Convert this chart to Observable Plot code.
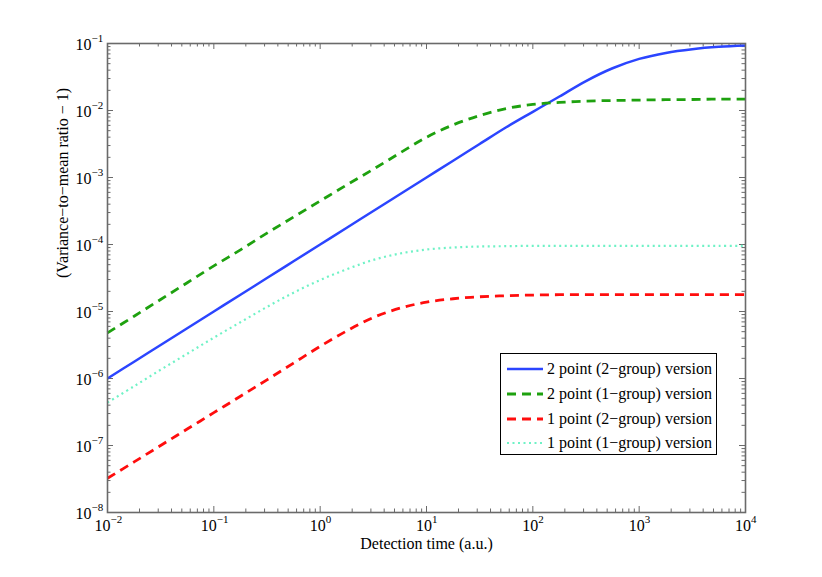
<!DOCTYPE html>
<html><head><meta charset="utf-8">
<script src="https://cdn.jsdelivr.net/npm/d3@7"></script>
<script src="https://cdn.jsdelivr.net/npm/@observablehq/plot@0.6"></script>
<style>
body{margin:0;background:#fff;}
#wrap{position:relative;width:822px;height:577px;overflow:hidden;}
#legend{position:absolute;left:500px;top:353px;width:217px;height:102px;border:1px solid #000;background:#fff;font-family:"Liberation Serif","Times New Roman",serif;font-size:16px;color:#000;box-sizing:border-box;}
.row{position:absolute;left:0;height:24px;display:flex;align-items:center;white-space:nowrap;}
.row svg{margin-left:6px;margin-right:4px;}
</style></head>
<body><div id="wrap"><div id="chart"></div><div id="legend"></div></div>
<script>
// ---- data ----
const xs = [0.01, 0.0178, 0.0316, 0.0562, 0.1, 0.178, 0.316, 0.562, 1, 1.78, 3.16, 5.62, 10, 17.8, 31.6, 56.2, 100, 178, 316, 562, 1000, 1780, 3160, 5620, 10000];
const blue2pt2grp = [1.0e-6, 1.78e-6, 3.16e-6, 5.62e-6, 1.0e-5, 1.78e-5, 3.16e-5, 5.62e-5, 1.0e-4, 1.78e-4, 3.16e-4, 5.62e-4, 1.0e-3, 1.78e-3, 3.16e-3, 5.62e-3, 9.55e-3, 1.62e-2, 2.75e-2, 4.27e-2, 5.89e-2, 7.24e-2, 8.22e-2, 8.91e-2, 9.33e-2];
const green2pt1grp = [4.79e-6, 8.51e-6, 1.51e-5, 2.69e-5, 4.79e-5, 8.32e-5, 1.48e-4, 2.57e-4, 4.47e-4, 7.76e-4, 1.33e-3, 2.32e-3, 3.98e-3, 6.10e-3, 8.41e-3, 1.07e-2, 1.23e-2, 1.32e-2, 1.38e-2, 1.41e-2, 1.43e-2, 1.45e-2, 1.46e-2, 1.48e-2, 1.48e-2];
const red1pt2grp = [3.24e-8, 5.69e-8, 1.0e-7, 1.76e-7, 3.09e-7, 5.43e-7, 9.55e-7, 1.70e-6, 3.02e-6, 5.13e-6, 8.13e-6, 1.12e-5, 1.38e-5, 1.55e-5, 1.66e-5, 1.72e-5, 1.76e-5, 1.78e-5, 1.78e-5, 1.78e-5, 1.78e-5, 1.78e-5, 1.78e-5, 1.78e-5, 1.78e-5];
const cyan1pt1grp = [4.37e-7, 7.67e-7, 1.35e-6, 2.34e-6, 4.07e-6, 6.92e-6, 1.17e-5, 1.91e-5, 2.95e-5, 4.27e-5, 5.89e-5, 7.33e-5, 8.41e-5, 9.02e-5, 9.33e-5, 9.44e-5, 9.55e-5, 9.55e-5, 9.55e-5, 9.55e-5, 9.55e-5, 9.55e-5, 9.55e-5, 9.55e-5, 9.55e-5];
const seriesNames = ["2 point (2\u2212group) version", "2 point (1\u2212group) version", "1 point (2\u2212group) version", "1 point (1\u2212group) version"];
const xTickExp = [-2, -1, 0, 1, 2, 3, 4];
const yTickExp = [-8, -7, -6, -5, -4, -3, -2, -1];
const xLabel = "Detection time (a.u.)";
const yLabel = "(Variance\u2212to\u2212mean ratio \u2212 1)";

// ---- styles ----
const styles = [
  {color: "#2b45ff", width: 2.5, dash: null},
  {color: "#1ea10f", width: 2.8, dash: "9,6"},
  {color: "#ff0d0d", width: 2.8, dash: "9,6"},
  {color: "#6ff2c6", width: 2.2, dash: "2,3.5"}
];
const allSeries = [blue2pt2grp, green2pt1grp, red1pt2grp, cyan1pt1grp];
const rows = [];
allSeries.forEach((vals, s) => vals.forEach((v, i) => rows.push({x: xs[i], y: v, s})));

const W = 822, H = 577, mL = 107, mR = 77, mT = 43, mB = 65;
const iW = W - mL - mR, iH = H - mT - mB;
const axisColor = "#6a6a6a";
const font = "Liberation Serif";

const xMajor = xTickExp.map(e => Math.pow(10, e));
const yMajor = yTickExp.map(e => Math.pow(10, e));
const xMinor = [], yMinor = [];
for (let e = -2; e < 4; e++) for (let k = 2; k <= 9; k++) xMinor.push(k * Math.pow(10, e));
for (let e = -8; e < -1; e++) for (let k = 2; k <= 9; k++) yMinor.push(k * Math.pow(10, e));
const sup = e => (e < 0 ? "\u2212" : "") + Math.abs(e);
const xNeg = xTickExp.filter(e => e < 0), xPos = xTickExp.filter(e => e >= 0);

const majLen = 6, minLen = 3.5;
const txt = {fontFamily: font, fill: "#000"};
const marks = [
  // ticks (inward, all four sides)
  Plot.ruleX(xMajor, {x: d => d, insetTop: iH - majLen, stroke: axisColor, strokeWidth: 1}),
  Plot.ruleX(xMajor, {x: d => d, insetBottom: iH - majLen, stroke: axisColor, strokeWidth: 1}),
  Plot.ruleX(xMinor, {x: d => d, insetTop: iH - minLen, stroke: axisColor, strokeWidth: 1}),
  Plot.ruleX(xMinor, {x: d => d, insetBottom: iH - minLen, stroke: axisColor, strokeWidth: 1}),
  Plot.ruleY(yMajor, {y: d => d, insetRight: iW - majLen, stroke: axisColor, strokeWidth: 1}),
  Plot.ruleY(yMajor, {y: d => d, insetLeft: iW - majLen, stroke: axisColor, strokeWidth: 1}),
  Plot.ruleY(yMinor, {y: d => d, insetRight: iW - minLen, stroke: axisColor, strokeWidth: 1}),
  Plot.ruleY(yMinor, {y: d => d, insetLeft: iW - minLen, stroke: axisColor, strokeWidth: 1}),
  // curves
  ...styles.map((st, s) => Plot.line(rows.filter(r => r.s === s), {
    x: "x", y: "y", stroke: st.color, strokeWidth: st.width,
    strokeDasharray: st.dash, curve: "catmull-rom", strokeLinecap: "butt"
  })),
  Plot.frame({stroke: axisColor, strokeWidth: 1.6}),
  // x tick labels: "10" + raised exponent, roughly centred on the tick
  Plot.text(xNeg, {x: e => Math.pow(10, e), frameAnchor: "bottom", text: () => "10", textAnchor: "end", dx: 3, dy: 18, fontSize: 16, ...txt}),
  Plot.text(xPos, {x: e => Math.pow(10, e), frameAnchor: "bottom", text: () => "10", textAnchor: "end", dx: 5.5, dy: 18, fontSize: 16, ...txt}),
  Plot.text(xNeg, {x: e => Math.pow(10, e), frameAnchor: "bottom", text: e => sup(e), textAnchor: "start", dx: 3, dy: 10, fontSize: 11, ...txt}),
  Plot.text(xPos, {x: e => Math.pow(10, e), frameAnchor: "bottom", text: e => sup(e), textAnchor: "start", dx: 5.5, dy: 10, fontSize: 11, ...txt}),
  // y tick labels
  Plot.text(yTickExp, {y: e => Math.pow(10, e), frameAnchor: "left", text: () => "10", textAnchor: "end", dx: -16, dy: 1, fontSize: 16, ...txt}),
  Plot.text(yTickExp, {y: e => Math.pow(10, e), frameAnchor: "left", text: e => sup(e), textAnchor: "start", dx: -16, dy: -5.5, fontSize: 11, ...txt}),
  // axis titles
  Plot.text([xLabel], {frameAnchor: "bottom", text: d => d, dy: 36, fontSize: 16, ...txt}),
  Plot.text([yLabel], {frameAnchor: "left", text: d => d, dx: -45, rotate: -90, fontSize: 16, ...txt})
];

const chart = Plot.plot({
  width: W, height: H, marginLeft: mL, marginRight: mR, marginTop: mT, marginBottom: mB,
  x: {type: "log", domain: [1e-2, 1e4], axis: null},
  y: {type: "log", domain: [1e-8, 1e-1], axis: null},
  style: {background: "#fff", fontFamily: font},
  marks
});
document.getElementById("chart").appendChild(chart);

// legend
const leg = document.getElementById("legend");
seriesNames.forEach((name, i) => {
  const st = styles[i];
  const row = document.createElement("div");
  row.className = "row";
  row.style.top = (3 + i * 24.8) + "px";
  row.innerHTML = `<svg width="36" height="10"><line x1="0" x2="36" y1="5" y2="5" stroke="${st.color}" stroke-width="${st.width}" ${st.dash ? `stroke-dasharray="${st.dash}"` : ""}/></svg><span>${name}</span>`;
  leg.appendChild(row);
});
</script></body></html>
